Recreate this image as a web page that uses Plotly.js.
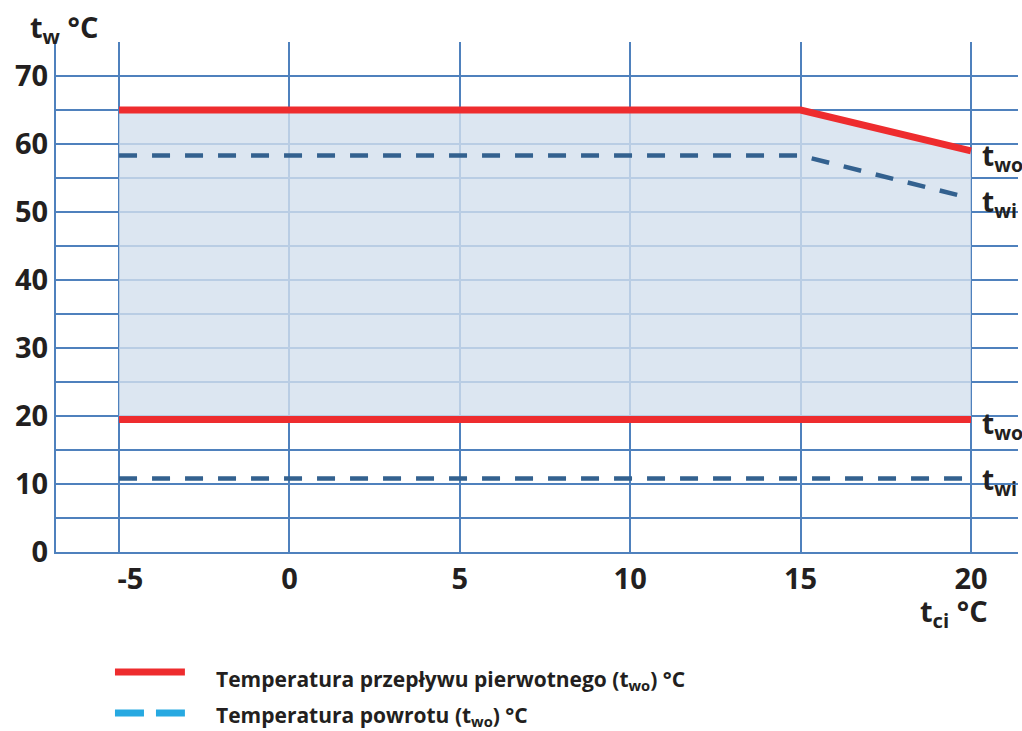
<!DOCTYPE html>
<html>
<head>
<meta charset="utf-8">
<script src="https://cdn.plot.ly/plotly-3.0.1.min.js"></script>
<style>html,body{margin:0;padding:0;background:#fff;}#chart{width:1022px;height:731px;}</style>
</head>
<body>
<div id="chart"></div>
<script>
// Data
const xPoints = [-5, 15, 20];          // t_ci °C break points
const twoUpper = [65, 65, 59];         // primary flow, upper limit
const twiUpper = [58.3, 58.3, 52];     // return, upper limit
const twoLower = [19.5, 19.5, 19.5];   // primary flow, lower limit
const twiLower = [10.8, 10.8, 10.8];   // return, lower limit
const xTicks = [-5, 0, 5, 10, 15, 20];
const xTickText = ['\u00a0\u00a0\u00a0-5', '0', '5', '10', '15', '20'];
const yTicks = [0, 10, 20, 30, 40, 50, 60, 70];
const legendLabels = [
  'Temperatura przepływu pierwotnego (t<sub>wo</sub>) °C',
  'Temperatura powrotu (t<sub>wo</sub>) °C'
];

const RED = '#ee2c2e';
const DARKBLUE = '#33618f';
const LIGHTBLUE = '#27a9e1';
const GRID = '#4f81bd';
const TXT = '#231f20';
const FONT = 'Open Sans, Noto Sans, sans-serif';

const traces = [
  {x: xPoints, y: twoLower, mode: 'lines', line: {width: 0}, hoverinfo: 'skip', showlegend: false},
  {x: xPoints, y: twoUpper, mode: 'lines', line: {width: 0}, fill: 'tonexty',
   fillcolor: 'rgba(211,224,238,0.8)', hoverinfo: 'skip', showlegend: false},
  {x: xPoints, y: twiUpper, mode: 'lines', line: {color: DARKBLUE, width: 4.5, dash: '18px,15px'}, showlegend: false},
  {x: xPoints, y: twiLower, mode: 'lines', line: {color: DARKBLUE, width: 4.5, dash: '18px,15px'}, showlegend: false},
  {x: xPoints, y: twoUpper, mode: 'lines', line: {color: RED, width: 7}, showlegend: false},
  {x: xPoints, y: twoLower, mode: 'lines', line: {color: RED, width: 7}, showlegend: false}
];

function lab(text, x, y, size) {
  return {text: text, x: x, y: y, xref: 'x', yref: 'y', xanchor: 'left', yanchor: 'middle',
    xshift: 9, showarrow: false, font: {family: FONT, size: size || 28, color: TXT, weight: 'bold'}};
}

const annotations = [
  lab('t<sub>wo</sub>', xPoints[2], twoUpper[2] - 0.9),
  lab('t<sub>wi</sub>', xPoints[2], twiUpper[2] - 0.7),
  lab('t<sub>wo</sub>', xPoints[2], twoLower[2] - 0.8),
  lab('t<sub>wi</sub>', xPoints[2], twiLower[2] - 0.4),
  {text: 't<sub>w</sub> °C', xref: 'paper', yref: 'paper', x: 0, y: 1, xanchor: 'left', yanchor: 'middle',
   xshift: -28, yshift: 14, showarrow: false, font: {family: FONT, size: 29, color: TXT, weight: 'bold'}},
  {text: 't<sub>ci</sub> °C', xref: 'x', yref: 'paper', x: 20, y: 0, xanchor: 'center', yanchor: 'middle',
   xshift: -17, yshift: -60, showarrow: false, font: {family: FONT, size: 29, color: TXT, weight: 'bold'}},
  {text: legendLabels[0], xref: 'paper', yref: 'paper', x: 0.1642, y: -0.251, xanchor: 'left', yanchor: 'middle',
   showarrow: false, font: {family: FONT, size: 21, color: TXT, weight: 'bold'}},
  {text: legendLabels[1], xref: 'paper', yref: 'paper', x: 0.1642, y: -0.3216, xanchor: 'left', yanchor: 'middle',
   showarrow: false, font: {family: FONT, size: 21, color: TXT, weight: 'bold'}}
];

const shapes = [
  {type: 'line', xref: 'paper', yref: 'paper', x0: 0.0613, x1: 0.134, y0: -0.2353, y1: -0.2353,
   line: {color: RED, width: 7}},
  {type: 'line', xref: 'paper', yref: 'paper', x0: 0.0613, x1: 0.134, y0: -0.3157, y1: -0.3157,
   line: {color: LIGHTBLUE, width: 7, dash: '29px,12px'}}
];

const layout = {
  width: 1022, height: 731,
  margin: {l: 56, r: 4, t: 42, b: 179},
  paper_bgcolor: '#fff', plot_bgcolor: '#fff',
  showlegend: false,
  font: {family: FONT, color: TXT},
  xaxis: {
    range: [-6.85, 21.38], tickvals: xTicks, ticktext: xTickText,
    showgrid: true, gridcolor: GRID, gridwidth: 2, zeroline: false,
    showline: true, linecolor: GRID, linewidth: 2, ticks: '',
    tickfont: {family: FONT, size: 29, color: TXT, weight: 'bold'}, fixedrange: true
  },
  yaxis: {
    range: [0, 75], tickvals: yTicks,
    showgrid: true, gridcolor: GRID, gridwidth: 2, zeroline: false,
    showline: true, linecolor: GRID, linewidth: 2, ticks: '',
    minor: {dtick: 5, tick0: 0, showgrid: true, gridcolor: GRID, gridwidth: 2},
    tickfont: {family: FONT, size: 29, color: TXT, weight: 'bold'}, fixedrange: true
  },
  annotations: annotations,
  shapes: shapes
};

Plotly.newPlot('chart', traces, layout, {displayModeBar: false, staticPlot: true});
</script>
</body>
</html>
